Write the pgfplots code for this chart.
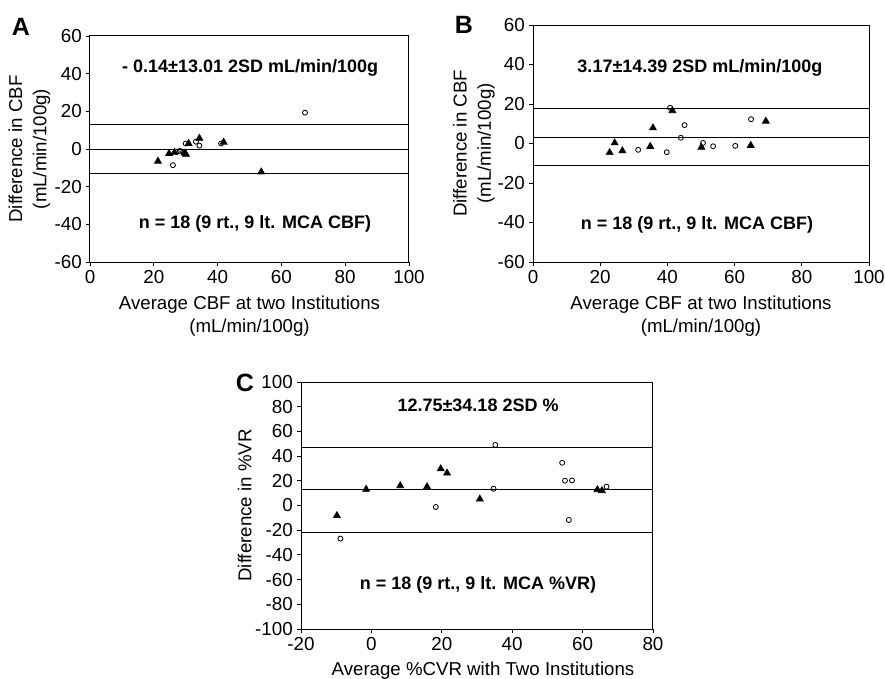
\documentclass[border=0pt]{standalone}
\usepackage{fontspec}
\setmainfont{Liberation Sans}
\usepackage{pgfplots}
\pgfplotsset{compat=1.18}

\pgfplotsset{
  ba/.style={
    scale only axis, anchor=south west,
    axis line style={black, line width=0.6pt},
    tick pos=left, tick align=outside, major tick length=2.4pt,
    tick style={black, line width=0.5pt},
    font=\fontsize{11}{13}\selectfont,
    tick label style={font=\fontsize{11.3}{13}\selectfont},
    /pgf/number format/assume math mode=true,
    xticklabel style={yshift=1pt},
    yticklabel style={xshift=1pt},
    ylabel style={anchor=center, align=center, font=\fontsize{11.2}{14.5}\selectfont},
    xlabel style={anchor=center, align=center, font=\fontsize{11.2}{14}\selectfont},
    clip=false,
  },
  tri/.style={only marks, mark=triangle*, mark size=2.4pt, black},
  circ/.style={only marks, mark=o, mark size=1.5pt, black, mark options={line width=0.5pt}},
  hl/.style={black, line width=0.5pt, no marks},
}
\tikzset{
  note/.style={font=\bfseries\fontsize{10.8}{12}\selectfont},
  letter/.style={font=\bfseries\fontsize{15}{16}\selectfont},
}

\begin{document}
\begin{tikzpicture}

% Panel A
\begin{axis}[ba, at={(54pt,-157.2pt)}, width=191.4pt, height=135.6pt,
  xmin=0, xmax=100, ymin=-60, ymax=60,
  xtick={0,20,...,100}, ytick={-60,-40,...,60},
  ylabel={Difference in CBF\\(mL/min/100g)},
  ylabel style={at={(axis description cs:-0.19,0.5)}},
  xlabel={Average CBF at two Institutions\\(mL/min/100g)},
  xlabel style={at={(axis description cs:0.5,-0.24)}}]
  \addplot[hl] coordinates {(0,12.87) (100,12.87)};
  \addplot[hl] coordinates {(0,-0.14) (100,-0.14)};
  \addplot[hl] coordinates {(0,-13.15) (100,-13.15)};
  \addplot[tri] coordinates {(21.3,-6.5) (24.8,-2.4) (26.5,-1.8) (30.1,-2.8) (29.6,-2.2)
    (30.9,2.9) (34.3,5.7) (41.9,3.6) (53.7,-12.2)};
  \addplot[circ] coordinates {(67.4,19.3) (26.0,-8.6) (28.2,-1.0) (29.2,-1.6) (30.0,2.9)
    (33.2,3.9) (34.3,1.8) (41.1,2.9) (27.2,-1.4)};
  \node[note] at (axis cs:50.2,43) {- 0.14±13.01 2SD mL/min/100g};
  \node[note] at (axis cs:51.7,-39.8) {n = 18 (9 rt., 9 lt. MCA CBF)};
\end{axis}
\node[letter] at (12.6pt,-16.2pt) {A};

% Panel B
\begin{axis}[ba, at={(319.8pt,-157.2pt)}, width=201.6pt, height=142.2pt,
  xmin=0, xmax=100, ymin=-60, ymax=60,
  xtick={0,20,...,100}, ytick={-60,-40,...,60},
  ylabel={Difference in CBF\\(mL/min/100g)},
  ylabel style={at={(axis description cs:-0.176,0.5)}},
  xlabel={Average CBF at two Institutions\\(mL/min/100g)},
  xlabel style={at={(axis description cs:0.5,-0.228)}}]
  \addplot[hl] coordinates {(0,17.56) (100,17.56)};
  \addplot[hl] coordinates {(0,3.17) (100,3.17)};
  \addplot[hl] coordinates {(0,-11.22) (100,-11.22)};
  \addplot[tri] coordinates {(22.8,-4.6) (24.3,0.3) (26.6,-3.7) (34.9,-1.5) (35.7,7.9)
    (41.5,16.6) (50.1,-1.9) (64.8,-1.0) (69.3,11.3)};
  \addplot[circ] coordinates {(31.3,-3.2) (39.8,-4.4) (40.8,18.1) (44.0,2.9) (45.1,9.3)
    (50.6,0.3) (53.6,-1.4) (60.2,-1.2) (64.9,12.3)};
  \node[note] at (axis cs:49.7,38.2) {3.17±14.39 2SD mL/min/100g};
  \node[note] at (axis cs:48.8,-41.3) {n = 18 (9 rt., 9 lt. MCA CBF)};
\end{axis}
\node[letter] at (278.4pt,-15pt) {B};

% Panel C
\begin{axis}[ba, at={(180.6pt,-377.4pt)}, width=211.2pt, height=148.2pt,
  xmin=-20, xmax=80, ymin=-100, ymax=100,
  xtick={-20,0,...,80}, ytick={-100,-80,...,100},
  ylabel={Difference in \%VR},
  ylabel style={at={(axis description cs:-0.16,0.5)}},
  xlabel={Average \%CVR with Two Institutions},
  xlabel style={at={(axis description cs:0.517,-0.168)}}]
  \addplot[hl] coordinates {(-20,46.93) (80,46.93)};
  \addplot[hl] coordinates {(-20,12.75) (80,12.75)};
  \addplot[hl] coordinates {(-20,-21.43) (80,-21.43)};
  \addplot[tri] coordinates {(-9.8,-8.2) (-1.5,13.1) (8.2,16.0) (15.8,15.2) (19.7,29.7)
    (21.5,26.2) (30.8,5.2) (64.2,12.8) (65.5,12.0)};
  \addplot[circ] coordinates {(-8.8,-26.8) (18.3,-1.2) (34.7,13.6) (35.2,49.1) (54.2,34.6)
    (55.0,20.1) (57.0,20.3) (56.1,-11.7) (66.8,15.2)};
  \node[note] at (axis cs:30.3,81.4) {12.75±34.18 2SD \%};
  \node[note] at (axis cs:30.3,-64.4) {n = 18 (9 rt., 9 lt. MCA \%VR)};
\end{axis}
\node[letter] at (147pt,-229.8pt) {C};

\pgfresetboundingbox
\path[use as bounding box] (0,0) rectangle (531pt,-407.4pt);
\end{tikzpicture}
\end{document}
